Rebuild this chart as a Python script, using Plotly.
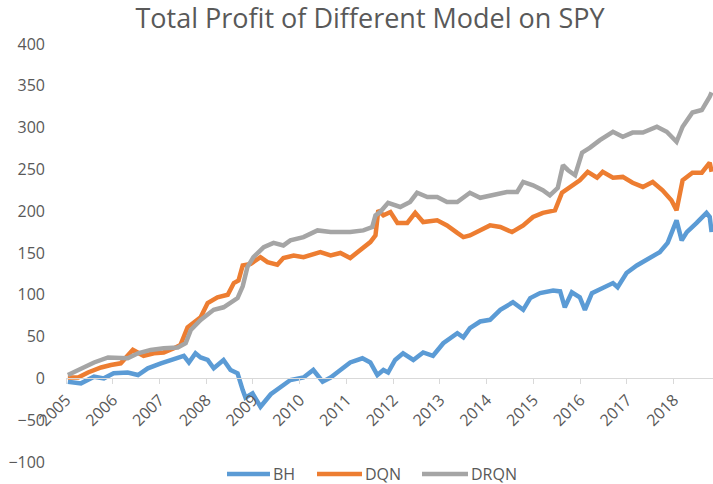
import plotly.graph_objects as go

# ---- data (decimal year, profit) ----
bh_x = [2005.04, 2005.32, 2005.60, 2005.81, 2006.02, 2006.32, 2006.54, 2006.75, 2007.03, 2007.24,
        2007.39, 2007.52, 2007.63, 2007.77, 2007.88, 2008.03, 2008.16, 2008.37, 2008.52, 2008.67,
        2008.78, 2008.84, 2008.99, 2009.16, 2009.38, 2009.59, 2009.80, 2010.08, 2010.29, 2010.49,
        2010.66, 2010.87, 2011.08, 2011.34, 2011.51, 2011.66, 2011.79, 2011.89, 2012.04, 2012.21,
        2012.43, 2012.64, 2012.85, 2013.07, 2013.37, 2013.50, 2013.64, 2013.86, 2014.07, 2014.29,
        2014.56, 2014.78, 2014.93, 2015.14, 2015.42, 2015.57, 2015.67, 2015.82, 2015.99, 2016.10,
        2016.25, 2016.48, 2016.70, 2016.80, 2016.99, 2017.21, 2017.49, 2017.70, 2017.87, 2018.06,
        2018.17, 2018.28, 2018.49, 2018.70, 2018.77, 2018.81]
bh_y = [-4, -6, 2, 0, 6, 7, 4, 12, 18, 22,
        25, 27, 19, 30, 25, 22, 12, 22, 10, 6,
        -14, -23, -18, -34, -19, -10, -2, 1, 10, -4,
        1, 10, 19, 24, 19, 4, 10, 7, 22, 30,
        22, 31, 27, 42, 54, 49, 60, 68, 70, 82,
        91, 82, 96, 102, 105, 104, 85, 103, 97, 82,
        102, 108, 114, 109, 126, 135, 144, 151, 162, 189,
        165, 175, 186, 198, 193, 175]

dqn_x = [2005.04, 2005.26, 2005.47, 2005.75, 2005.96, 2006.17, 2006.43, 2006.66, 2006.88, 2007.09,
         2007.31, 2007.45, 2007.60, 2007.73, 2007.88, 2008.03, 2008.24, 2008.46, 2008.59, 2008.69,
         2008.78, 2008.95, 2009.16, 2009.31, 2009.52, 2009.65, 2009.87, 2010.08, 2010.44, 2010.66,
         2010.87, 2011.08, 2011.30, 2011.51, 2011.62, 2011.68, 2011.79, 2011.94, 2012.09, 2012.30,
         2012.47, 2012.64, 2012.94, 2013.15, 2013.37, 2013.50, 2013.64, 2013.86, 2014.07, 2014.29,
         2014.54, 2014.78, 2014.99, 2015.20, 2015.46, 2015.61, 2015.78, 2015.99, 2016.16, 2016.36,
         2016.48, 2016.70, 2016.91, 2017.12, 2017.34, 2017.55, 2017.76, 2017.95, 2018.06, 2018.19,
         2018.40, 2018.60, 2018.77, 2018.81]
dqn_y = [1, 1, 7, 13, 16, 18, 34, 27, 30, 31,
         36, 40, 61, 66, 73, 90, 97, 100, 114, 117,
         135, 137, 145, 139, 136, 144, 147, 145, 151, 147,
         150, 144, 153, 163, 171, 201, 195, 199, 186, 186,
         198, 187, 189, 183, 174, 169, 171, 177, 183, 181,
         175, 183, 193, 198, 201, 222, 229, 237, 247, 240,
         247, 240, 241, 234, 229, 235, 225, 213, 201, 237,
         246, 246, 258, 247]

drqn_x = [2005.04, 2005.32, 2005.60, 2005.90, 2006.11, 2006.32, 2006.54, 2006.81, 2007.09, 2007.39,
          2007.56, 2007.67, 2007.88, 2008.16, 2008.37, 2008.67, 2008.78, 2008.88, 2009.01, 2009.23,
          2009.44, 2009.65, 2009.80, 2010.08, 2010.38, 2010.66, 2011.08, 2011.36, 2011.55, 2011.62,
          2011.72, 2011.89, 2012.15, 2012.36, 2012.51, 2012.73, 2012.94, 2013.15, 2013.37, 2013.64,
          2013.86, 2014.14, 2014.43, 2014.65, 2014.78, 2014.99, 2015.20, 2015.35, 2015.52, 2015.63,
          2015.74, 2015.89, 2016.04, 2016.21, 2016.42, 2016.70, 2016.91, 2017.12, 2017.34, 2017.64,
          2017.85, 2018.06, 2018.19, 2018.40, 2018.60, 2018.77, 2018.81]
drqn_y = [4, 12, 19, 25, 25, 24, 30, 34, 36, 37,
          42, 58, 70, 82, 85, 96, 110, 133, 145, 157,
          162, 159, 165, 169, 177, 175, 175, 177, 181, 195,
          199, 210, 205, 211, 222, 217, 217, 211, 211, 222,
          216, 219, 223, 223, 235, 231, 225, 219, 228, 255,
          249, 243, 270, 276, 285, 295, 289, 294, 294, 301,
          295, 283, 301, 318, 321, 337, 342]

year_ticks = list(range(2005, 2019))
year_labels = [str(y) for y in year_ticks]
y_ticks = [-100, -50, 0, 50, 100, 150, 200, 250, 300, 350, 400]

series = [("BH", bh_x, bh_y, "#5B9BD5"),
          ("DQN", dqn_x, dqn_y, "#ED7D31"),
          ("DRQN", drqn_x, drqn_y, "#A5A5A5")]

FONT = "Open Sans"
TXT = "#595959"

W, H = 713, 484
ML, MT, MB = 66, 44, 0
Y_LO, Y_HI = -126.4, 400          # extra room below -100 holds the legend
X_LO, X_HI = 2005, 2018.84
plot_w = W - ML
plot_h = H - MT - MB
x_axis_pos = (0 - Y_LO) / (Y_HI - Y_LO)   # x axis line crosses at y = 0

# legend layout (pixel positions of each key's sample line start / end)
legend_px = [(227, 270), (317, 362), (422, 468)]
legend_y_px = 474


def px_x(p):
    return (p - ML) / plot_w


def px_y(p):
    return (H - MB - p) / plot_h


fig = go.Figure()
for name, xs, ys, col in series:
    fig.add_trace(go.Scatter(x=xs, y=ys, mode="lines", name=name,
                             line=dict(color=col, width=4.5), showlegend=False))

for (name, _, _, col), (x0, x1) in zip(series, legend_px):
    fig.add_shape(type="line", xref="paper", yref="paper",
                  x0=px_x(x0), x1=px_x(x1), y0=px_y(legend_y_px), y1=px_y(legend_y_px),
                  line=dict(color=col, width=4.5))
    fig.add_annotation(text=name, xref="paper", yref="paper",
                       x=px_x(x1 + 2), y=px_y(legend_y_px),
                       xanchor="left", yanchor="middle", showarrow=False,
                       borderpad=0, height=18,
                       font=dict(family=FONT, size=16, color=TXT))

fig.update_layout(
    width=W, height=H,
    margin=dict(l=ML, r=0, t=MT, b=MB),
    paper_bgcolor="white", plot_bgcolor="white",
    font=dict(family=FONT, size=16, color=TXT),
    title=dict(text="Total Profit of Different Model on SPY",
               x=370 / W, xref="container", xanchor="center",
               y=1 - 19 / H, yref="container", yanchor="middle",
               font=dict(family=FONT, size=27, color=TXT)),
    showlegend=False,
    xaxis=dict(range=[X_LO, X_HI], tickmode="array",
               tickvals=year_ticks, ticktext=year_labels,
               tickangle=-45, showgrid=False, zeroline=False,
               showline=True, linecolor="#D9D9D9", linewidth=1,
               ticks="outside", ticklen=5, tickcolor="#D9D9D9",
               anchor="free", position=x_axis_pos,
               tickfont=dict(family=FONT, size=16, color=TXT)),
    yaxis=dict(range=[Y_LO, Y_HI], tickmode="array", tickvals=y_ticks,
               showgrid=False, zeroline=False, showline=False,
               ticks="", ticklabelstandoff=20,
               tickfont=dict(family=FONT, size=16, color=TXT)),
)

fig.write_html("out.html", config={"displayModeBar": False},
               post_script="document.body.style.margin='0px';")
